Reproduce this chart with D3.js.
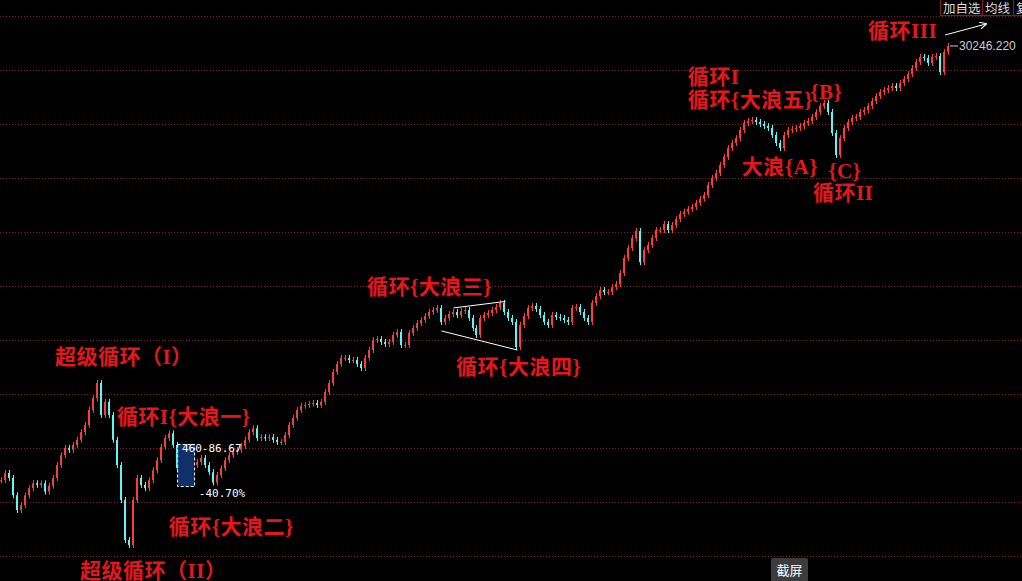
<!DOCTYPE html>
<html>
<head>
<meta charset="utf-8">
<script src="https://cdn.jsdelivr.net/npm/d3@7/dist/d3.min.js"></script>
<style>
 body { margin: 0; background: #000; }
 svg { display: block; }
 .wave { font-family: "Liberation Serif", "Noto Sans CJK SC", serif; font-weight: bold; font-size: 21px; letter-spacing: 0.5px; fill: #e8161c; }
</style>
</head>
<body>
<script>
 // *** monthly-ish closes (log scale, left to right)
 var closes = [
  100, 110, 103, 82, 67.5, 72, 82, 90, 96, 94, 96, 86, 93, 103, 122, 139, 153, 149, 159, 170,
  188, 207, 252, 294, 359, 236, 280, 236, 170, 122, 77, 45.5, 42.6, 77, 103, 94, 90, 100, 114, 130,
  155, 174, 185, 159, 117, 130, 145, 134, 122, 127, 134, 122, 111, 97, 107, 117, 130, 139, 145, 149,
  157, 170, 188, 198, 174, 176, 174, 176, 170, 165, 165, 181, 207, 227, 252, 266, 269, 273, 276, 269,
  280, 319, 359, 415, 461, 500, 500, 486, 486, 461, 437, 500, 554, 632, 640, 616, 600, 616, 675, 702,
  592, 592, 693, 740, 790, 822, 866, 914, 938, 964, 801, 845, 890, 914, 878, 926, 938, 845, 740, 675,
  845, 878, 902, 938, 976, 1030, 914, 845, 801, 576, 770, 866, 964, 989, 951, 878, 801, 770, 878, 856,
  845, 822, 801, 964, 976, 914, 845, 801, 1030, 1126, 1220, 1188, 1188, 1267, 1320, 1526, 1860, 2120, 2420, 2650,
  1760, 2065, 2206, 2420, 2687, 2687, 2905, 2687, 2870, 3100, 3320, 3420, 3540, 3640, 3840, 4050, 4260, 4860, 5330, 5690,
  6320, 7020, 7900, 8440, 9010, 10020, 10980, 11280, 11420, 11130, 10840, 10560, 10290, 9380, 8440, 7900, 9380, 10020, 10150, 10290,
  10560, 10980, 11280, 11880, 12700, 13740, 14280, 12700, 9630, 7210, 9010, 10290, 11130, 11720, 11880, 12700, 13030, 13740, 14670, 15660,
  16530, 16960, 17410, 17860, 17410, 18580, 19590, 20920, 22650, 24510, 26180, 25820, 24200, 26180, 26530, 21480, 28000, 30246.22
 ];

 var lastPrice = "30246.220";

 // *** wave labels: text, bar index, price (baseline)
 var waveLabels = ["循环III", "循环I", "循环{大浪五}", "{B}", "大浪{A}", "{C}", "循环II",
  "循环{大浪三}", "循环{大浪四}", "超级循环（I）", "循环I{大浪一}", "循环{大浪二}", "超级循环（II）"];
 var waveIdx = [217, 171.9, 171.9, 202.5, 185.4, 207, 203.2, 91.6, 113.9, 13.5, 29, 42, 19.8];
 var wavePrice = [33600, 18250, 13550, 15060, 5614, 5350, 3990, 1157, 404, 461, 209, 49.2, 27.6];

 // *** triangle trend lines around wave four: [index, price]
 var trendUpper = [[113.25, 964], [126.25, 1050]];
 var trendLower = [[110.25, 712], [129.25, 554]];

 var buttons = ["加自选", "均线", "复"];

 var width = 1022
 var height = 581

 var svg = d3.select('body')
  .append('svg')
  .attr('width', width)
  .attr('height', height)
  .style('background', '#000');

 var xScale = d3.scaleLinear()
  .domain([0, closes.length - 1])
  .range([1, 948]);

 var yScale = d3.scaleLog()
  .domain([30246.22, 39.9])
  .range([46, 550]);

 // *** dotted grid, evenly spaced like the trading software
 var gridScale = d3.scaleLinear().domain([0, 10]).range([16.5, 556.5]);
 svg.append('g').selectAll('line')
  .data(d3.range(11))
  .enter()
  .append('line')
  .attr('x1', 0)
  .attr('x2', width)
  .attr('y1', function(d) { return gridScale(d) })
  .attr('y2', function(d) { return gridScale(d) })
  .attr('stroke', '#7a1a1a')
  .attr('stroke-dasharray', '1,2');

 // *** candles: open = previous close
 var bars = closes.map(function(c, i) {
  var o = i > 0 ? closes[i - 1] : c;
  return { i: i, o: o, c: c, up: c >= o };
 });

 var candles = svg.append('g');
 candles.selectAll('line')
  .data(bars)
  .enter()
  .append('line')
  .attr('x1', function(d) { return Math.round(xScale(d.i)) + 0.5 })
  .attr('x2', function(d) { return Math.round(xScale(d.i)) + 0.5 })
  .attr('y1', function(d) { return yScale(Math.max(d.o, d.c)) - 3 })
  .attr('y2', function(d) { return yScale(Math.min(d.o, d.c)) + 3 })
  .attr('stroke', function(d) { return d.up ? '#ff3c3c' : '#5cf6f6' });

 candles.selectAll('rect')
  .data(bars)
  .enter()
  .append('rect')
  .attr('x', function(d) { return Math.round(xScale(d.i)) - 1 })
  .attr('width', 2)
  .attr('y', function(d) { return yScale(Math.max(d.o, d.c)) })
  .attr('height', function(d) { return Math.max(1, yScale(Math.min(d.o, d.c)) - yScale(Math.max(d.o, d.c))) })
  .attr('fill', function(d) { return d.up ? '#ff3c3c' : '#5cf6f6' });

 // *** last price marker
 var lastY = yScale(closes[closes.length - 1]);
 svg.append('line')
  .attr('x1', xScale(closes.length - 1) + 2)
  .attr('x2', 958)
  .attr('y1', lastY)
  .attr('y2', lastY)
  .attr('stroke', '#cccccc');
 svg.append('text')
  .attr('x', 959)
  .attr('y', lastY + 4)
  .attr('fill', '#cccccc')
  .style('font', '12px "Liberation Sans", Arial, sans-serif')
  .text(lastPrice);

 // *** trend lines
 [trendUpper, trendLower].forEach(function(t) {
  svg.append('line')
   .attr('x1', xScale(t[0][0]))
   .attr('y1', yScale(t[0][1]))
   .attr('x2', xScale(t[1][0]))
   .attr('y2', yScale(t[1][1]))
   .attr('stroke', '#ffffff');
 });

 // *** range-stat box with -40.70%
 svg.append('rect')
  .attr('x', xScale(44.2))
  .attr('y', yScale(160))
  .attr('width', 17)
  .attr('height', yScale(92) - yScale(160))
  .attr('fill', '#10306a')
  .attr('stroke', '#ffffff')
  .attr('stroke-dasharray', '3,2');
 svg.append('text')
  .attr('x', xScale(45.3))
  .attr('y', yScale(152) + 4)
  .attr('fill', '#ffffff')
  .style('font', '11px "DejaVu Sans Mono", monospace')
  .text('460-86.67');
 svg.append('text')
  .attr('x', xScale(49.5))
  .attr('y', yScale(84) + 4)
  .attr('fill', '#ffffff')
  .style('font', '11px "DejaVu Sans Mono", monospace')
  .text('-40.70%');

 // *** wave labels
 svg.append('g').selectAll('text')
  .data(waveLabels)
  .enter()
  .append('text')
  .attr('class', 'wave')
  .attr('x', function(d, i) { return xScale(waveIdx[i]) })
  .attr('y', function(d, i) { return yScale(wavePrice[i]) })
  .text(function(d) { return d });

 // *** arrow next to 循环III
 svg.append('defs').append('marker')
  .attr('id', 'arr')
  .attr('viewBox', '0 0 10 10')
  .attr('refX', 9)
  .attr('refY', 5)
  .attr('markerWidth', 7)
  .attr('markerHeight', 7)
  .attr('orient', 'auto')
  .append('path')
  .attr('d', 'M0,0 L10,5 L0,10')
  .attr('fill', 'none')
  .attr('stroke', '#ffffff')
  .attr('stroke-width', 1.5);
 svg.append('line')
  .attr('x1', 945)
  .attr('y1', 35)
  .attr('x2', 986)
  .attr('y2', 24)
  .attr('stroke', '#ffffff')
  .attr('marker-end', 'url(#arr)');

 // *** top-right buttons
 var bx = [940, 982, 1013];
 var bw = [42, 31, 12];
 var btn = svg.append('g').selectAll('g')
  .data(buttons)
  .enter()
  .append('g');
 btn.append('rect')
  .attr('x', function(d, i) { return bx[i] + 0.5 })
  .attr('y', -1)
  .attr('width', function(d, i) { return bw[i] })
  .attr('height', 16.5)
  .attr('fill', '#000')
  .attr('stroke', '#8a1a1a');
 btn.append('text')
  .attr('x', function(d, i) { return bx[i] + 3 })
  .attr('y', 13)
  .attr('fill', '#dddddd')
  .style('font', '12.5px "Noto Sans CJK SC", sans-serif')
  .text(function(d) { return d });

 // *** screenshot button
 svg.append('rect')
  .attr('x', 771)
  .attr('y', 558)
  .attr('width', 37)
  .attr('height', 24)
  .attr('rx', 2)
  .attr('fill', '#3c3c3c');
 svg.append('text')
  .attr('x', 789.5)
  .attr('y', 575)
  .attr('text-anchor', 'middle')
  .attr('fill', '#ffffff')
  .style('font', '13px "Noto Sans CJK SC", sans-serif')
  .text('截屏');
</script>
</body>
</html>
